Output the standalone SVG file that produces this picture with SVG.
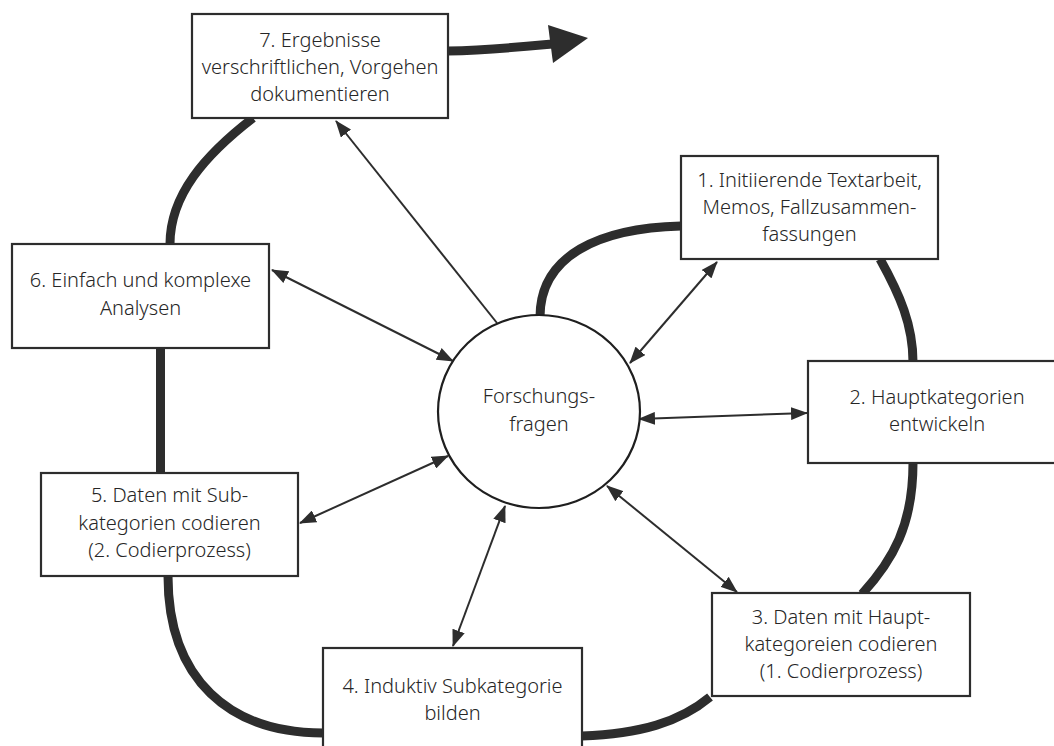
<svg xmlns="http://www.w3.org/2000/svg" width="1054" height="746" viewBox="0 0 1054 746">
  <style>
    .box { fill: #ffffff; stroke: #2d2d2d; stroke-width: 2.2; }
    .hub { fill: #ffffff; stroke: #1f1f1f; stroke-width: 2.2; }
    .label { font-family: "Noto Sans", "Open Sans", sans-serif; font-size: 20px; font-weight: 300; fill: #262626; text-anchor: middle; }
    .flow { fill: none; stroke: #2d2d2d; stroke-width: 9; stroke-linecap: butt; }
    .link { fill: none; stroke: #2d2d2d; stroke-width: 2; }
  </style>
  <defs>
    <marker id="head" viewBox="0 0 17 13" refX="16" refY="6.5" markerWidth="17" markerHeight="13" markerUnits="userSpaceOnUse" orient="auto-start-reverse">
      <path d="M0,0 L17,6.5 L0,13 z" fill="#2d2d2d"/>
    </marker>
  </defs>
  <rect width="1054" height="746" fill="#ffffff"/>

  <!-- process cycle and links to the research questions -->
  <g id="connectors">
    <!-- thick cycle strokes between steps -->
    <path class="flow" d="M681,226 C600,228 540,255 540,317"/>
    <path class="flow" d="M880,259 C900,295 913,325 913,362"/>
    <path class="flow" d="M913,463 C913,525 893,560 862,594"/>
    <path class="flow" d="M710,697 C680,722 640,734 582,736"/>
    <path class="flow" d="M323,733 C230,733 168,680 168,576"/>
    <path class="flow" d="M160.5,473 L160.5,348"/>
    <path class="flow" d="M170,244 C170,195 205,155 253,118"/>
    <!-- outgoing result arrow -->
    <path class="flow" d="M448,51 C490,50 520,47 552,44"/>
    <polygon points="588,38 548,25 553,63" fill="#2d2d2d"/>

    <!-- thin two-way links -->
    <line class="link" x1="630" y1="363" x2="717" y2="262" marker-start="url(#head)" marker-end="url(#head)"/>
    <line class="link" x1="639" y1="419" x2="807" y2="413" marker-start="url(#head)" marker-end="url(#head)"/>
    <line class="link" x1="607" y1="486" x2="737" y2="592" marker-start="url(#head)" marker-end="url(#head)"/>
    <line class="link" x1="505" y1="506" x2="453" y2="646" marker-start="url(#head)" marker-end="url(#head)"/>
    <line class="link" x1="448" y1="456" x2="300" y2="523" marker-start="url(#head)" marker-end="url(#head)"/>
    <line class="link" x1="453" y1="361" x2="272" y2="270" marker-start="url(#head)" marker-end="url(#head)"/>
    <line class="link" x1="497" y1="323" x2="336" y2="121" marker-end="url(#head)"/>
  </g>

  <g id="hub">
    <ellipse class="hub" cx="539" cy="411.5" rx="101" ry="96.5"/>
    <text class="label" x="539" y="403">Forschungs-</text>
    <text class="label" x="539" y="431">fragen</text>
  </g>

  <g id="step1">
    <rect class="box" x="681" y="156" width="257" height="103"/>
    <text class="label" x="809.5" y="187">1. Initiierende Textarbeit,</text>
    <text class="label" x="809.5" y="214">Memos, Fallzusammen-</text>
    <text class="label" x="809.5" y="241">fassungen</text>
  </g>

  <g id="step2">
    <rect class="box" x="808" y="361" width="258" height="102"/>
    <text class="label" x="937" y="404">2. Hauptkategorien</text>
    <text class="label" x="937" y="431">entwickeln</text>
  </g>

  <g id="step3">
    <rect class="box" x="712" y="593" width="258" height="103"/>
    <text class="label" x="841" y="624">3. Daten mit Haupt-</text>
    <text class="label" x="841" y="651">kategoreien codieren</text>
    <text class="label" x="841" y="678">(1. Codierprozess)</text>
  </g>

  <g id="step4">
    <rect class="box" x="323" y="648" width="259" height="104"/>
    <text class="label" x="452.5" y="693">4. Induktiv Subkategorie</text>
    <text class="label" x="452.5" y="720">bilden</text>
  </g>

  <g id="step5">
    <rect class="box" x="41" y="473" width="257" height="103"/>
    <text class="label" x="169.5" y="502">5. Daten mit Sub-</text>
    <text class="label" x="169.5" y="530">kategorien codieren</text>
    <text class="label" x="169.5" y="557">(2. Codierprozess)</text>
  </g>

  <g id="step6">
    <rect class="box" x="12" y="244" width="257" height="104"/>
    <text class="label" x="140.5" y="287">6. Einfach und komplexe</text>
    <text class="label" x="140.5" y="315">Analysen</text>
  </g>

  <g id="step7">
    <rect class="box" x="192" y="14" width="256" height="104"/>
    <text class="label" x="320" y="47">7. Ergebnisse</text>
    <text class="label" x="320" y="74">verschriftlichen, Vorgehen</text>
    <text class="label" x="320" y="101">dokumentieren</text>
  </g>
</svg>
